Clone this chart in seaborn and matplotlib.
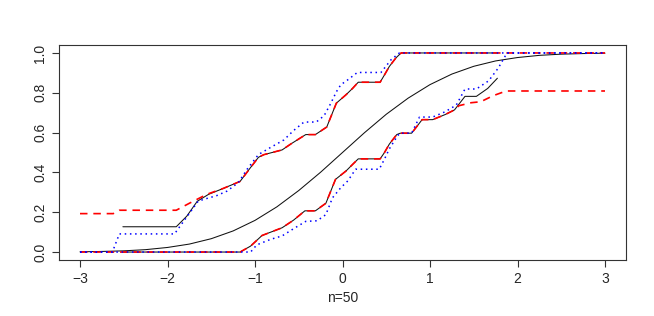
import numpy as np
import matplotlib.pyplot as plt
import seaborn as sns

# smooth reference curve
norm_x = [-3.0, -2.75, -2.5, -2.25, -2.0, -1.75, -1.5, -1.25, -1.0, -0.75, -0.5, -0.25, 0.0,
          0.25, 0.5, 0.75, 1.0, 1.25, 1.5, 1.75, 2.0, 2.25, 2.5, 2.75, 3.0]
norm_y = [0.001, 0.003, 0.006, 0.012, 0.023, 0.040, 0.067, 0.106, 0.159, 0.227, 0.309, 0.401, 0.5,
          0.599, 0.692, 0.773, 0.841, 0.894, 0.933, 0.960, 0.977, 0.988, 0.994, 0.997, 0.999]

# black solid bands
blk_up_x = [-2.51, -1.90, -1.78, -1.66, -1.53, -1.36, -1.17, -1.05, -0.96, -0.90, -0.69, -0.59,
            -0.42, -0.31, -0.18, -0.07, 0.04, 0.115, 0.18, 0.43, 0.48, 0.535, 0.61, 0.67, 1.77]
blk_up_y = [0.127, 0.127, 0.18, 0.255, 0.29, 0.32, 0.355, 0.425, 0.476, 0.489, 0.513, 0.543,
            0.59, 0.59, 0.628, 0.748, 0.79, 0.822, 0.853, 0.853, 0.89, 0.932, 0.975, 1.0, 1.0]
blk_lo_x = [-2.51, -1.17, -1.05, -0.92, -0.82, -0.69, -0.56, -0.43, -0.31, -0.19, -0.08, 0.04,
            0.115, 0.18, 0.43, 0.48, 0.535, 0.62, 0.66, 0.79, 0.91, 1.03, 1.17, 1.28, 1.40, 1.53,
            1.66, 1.77]
blk_lo_y = [0.0, 0.0, 0.03, 0.083, 0.10, 0.122, 0.16, 0.207, 0.207, 0.245, 0.365, 0.407,
            0.44, 0.468, 0.468, 0.50, 0.542, 0.59, 0.597, 0.597, 0.665, 0.665, 0.69, 0.714, 0.782, 0.782,
            0.822, 0.873]

# red dashed bands
red_up_x = [-3.0, -2.62, -2.55, -1.90, -1.75, -1.55, -1.36, -1.17, -1.05, -0.96, -0.90, -0.69, -0.59,
            -0.42, -0.31, -0.18, -0.07, 0.04, 0.115, 0.18, 0.43, 0.48, 0.535, 0.61, 0.67, 3.0]
red_up_y = [0.193, 0.193, 0.21, 0.21, 0.245, 0.29, 0.32, 0.355, 0.425, 0.476, 0.489, 0.513, 0.543,
            0.59, 0.59, 0.628, 0.748, 0.79, 0.822, 0.853, 0.853, 0.89, 0.932, 0.975, 1.0, 1.0]
red_lo_x = [-3.0, -1.17, -1.05, -0.92, -0.82, -0.69, -0.56, -0.43, -0.31, -0.19, -0.08, 0.04,
            0.115, 0.18, 0.43, 0.48, 0.535, 0.62, 0.66, 0.79, 0.91, 1.03, 1.17, 1.28, 1.33, 1.47,
            1.58, 1.72, 1.87, 3.0]
red_lo_y = [0.0, 0.0, 0.03, 0.083, 0.10, 0.122, 0.16, 0.207, 0.207, 0.245, 0.365, 0.407,
            0.44, 0.468, 0.468, 0.50, 0.542, 0.59, 0.597, 0.597, 0.665, 0.665, 0.69, 0.714, 0.735, 0.75,
            0.755, 0.785, 0.809, 0.809]

# blue dotted bands
blu_up_x = [-3.0, -2.63, -2.55, -1.92, -1.65, -1.59, -1.44, -1.32, -1.19, -1.09, -0.96, -0.82, -0.67,
            -0.56, -0.44, -0.30, -0.21, -0.135, -0.07, -0.02, 0.06, 0.17, 0.44, 0.555, 0.65, 3.0]
blu_up_y = [0.0, 0.0, 0.091, 0.091, 0.255, 0.264, 0.283, 0.306, 0.349, 0.416, 0.49, 0.526, 0.563,
            0.61, 0.653, 0.653, 0.685, 0.746, 0.805, 0.84, 0.865, 0.902, 0.902, 0.966, 1.0, 1.0]
blu_lo_x = [-3.0, -1.05, -0.98, -0.82, -0.69, -0.56, -0.42, -0.29, -0.19, -0.115, -0.02, 0.06, 0.15,
            0.42, 0.48, 0.535, 0.63, 0.66, 0.79, 0.88, 1.03, 1.17, 1.30, 1.40, 1.53, 1.67, 1.78, 1.88, 3.0]
blu_lo_y = [0.0, 0.0, 0.036, 0.064, 0.081, 0.117, 0.154, 0.157, 0.188, 0.272, 0.323, 0.357, 0.416,
            0.416, 0.467, 0.518, 0.585, 0.597, 0.597, 0.678, 0.678, 0.704, 0.738, 0.819, 0.819, 0.86,
            0.924, 1.0, 1.0]

xticks = [-3, -2, -1, 0, 1, 2, 3]
yticks = [0.0, 0.2, 0.4, 0.6, 0.8, 1.0]
ytick_labels = ["0.0", "0.2", "0.4", "0.6", "0.8", "1.0"]

sns.set_style("ticks")
plt.rcParams['font.family'] = ['Liberation Sans', 'DejaVu Sans']

fig = plt.figure(figsize=(6.54, 3.16), dpi=100)
ax = fig.add_axes([59 / 654, 1 - 260 / 316, (626 - 59) / 654, (260 - 45) / 316])

line_kw = dict(ax=ax, sort=False, estimator=None, legend=False)
sns.lineplot(x=norm_x, y=norm_y, color='#111111', linewidth=0.75, **line_kw)
sns.lineplot(x=blk_up_x, y=blk_up_y, color='#111111', linewidth=0.75, **line_kw)
sns.lineplot(x=blk_lo_x, y=blk_lo_y, color='#111111', linewidth=0.75, **line_kw)
sns.lineplot(x=red_up_x, y=red_up_y, color='red', linewidth=1.2, **line_kw)
sns.lineplot(x=red_lo_x, y=red_lo_y, color='red', linewidth=1.2, **line_kw)
sns.lineplot(x=blu_up_x, y=blu_up_y, color='blue', linewidth=1.1, **line_kw)
sns.lineplot(x=blu_lo_x, y=blu_lo_y, color='blue', linewidth=1.1, **line_kw)

# R style dashes / dots
for ln in ax.lines[3:5]:
    ln.set_linestyle((0, (4.5, 3.5)))
for ln in ax.lines[5:7]:
    ln.set_linestyle((0, (1, 2.4)))

ax.set_xlim(-3.24, 3.24)
ax.set_ylim(-0.04, 1.04)
ax.set_xticks(xticks)
ax.set_yticks(yticks)
ax.set_yticklabels(ytick_labels, rotation=90, va='center')
ax.tick_params(axis='both', length=5, width=0.8, labelsize=10, color='#333333')
ax.tick_params(axis='x', pad=3.5)
ax.tick_params(axis='y', pad=3.5)
for sp in ax.spines.values():
    sp.set_visible(True)
    sp.set_linewidth(0.8)
    sp.set_color('#333333')
ax.set_xlabel('n=50', fontsize=10, labelpad=4)
ax.set_ylabel('')

fig.savefig('out.png', dpi=100)
plt.close(fig)
